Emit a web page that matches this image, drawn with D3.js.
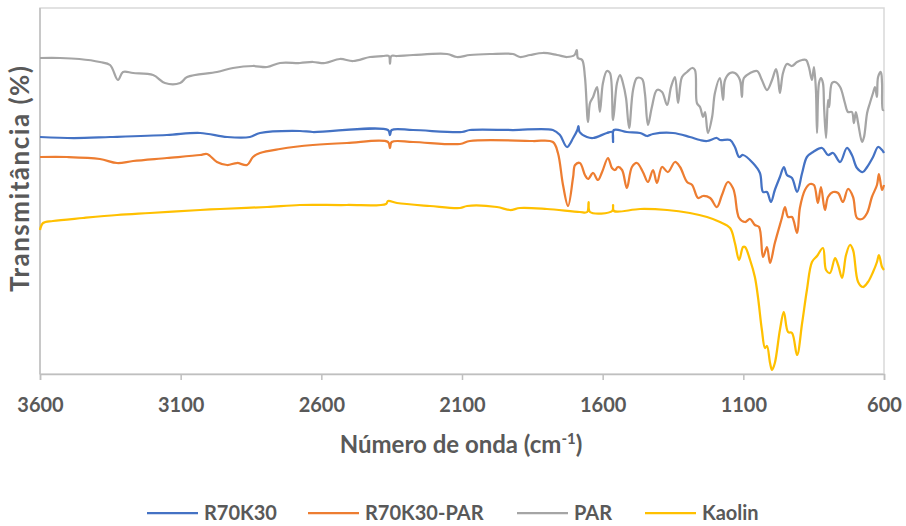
<!DOCTYPE html>
<html><head><meta charset="utf-8">
<script src="https://cdn.jsdelivr.net/npm/d3@7"></script>
<style>
body{margin:0;background:#fff}
svg{display:block}
text{font-family:Lato,"Open Sans",sans-serif;font-weight:bold;fill:#595959}
</style>
</head><body>
<svg id="chart" width="906" height="526"></svg>
<script>
// ---- data ----
const seriesNames = ["R70K30", "R70K30-PAR", "PAR", "Kaolin"];
const xTicks = [3600, 3100, 2600, 2100, 1600, 1100, 600];

// [wavenumber (cm-1), transmittance (arbitrary offset units)]
const r70k30 = [[3600,118.5],[3480,118],[3351,118.5],[3149,119.5],[3031,120.5],[2935,118.5],[2854,118.5],[2818,120.5],[2676,121.5],[2630,121],[2363,122],[2356,119.5],[2350,122],[2274,122],[2100,121],[2072,122],[1919,122],[1777,122],[1752,119.5],[1727,113.5],[1705,118],[1690,122],[1686,124],[1682,121],[1656,118.5],[1634,118],[1585,120.5],[1566,121],[1563,116],[1560,122],[1514,121],[1467,120.5],[1442,119],[1421,120],[1350,120.5],[1290,118.5],[1254,117],[1229,116.5],[1194,118],[1183,117],[1147,117],[1130,113.5],[1115,108.5],[1101,109.5],[1066,105.5],[1041,100.5],[1030,91],[1016,91],[1002,86],[988,92],[970,98.5],[956,103.5],[945,99.5],[927,98],[909,91],[891,100.5],[874,108.5],[852,111],[820,113],[799,109.5],[781,110.5],[756,106],[732,113],[714,109.5],[696,103],[675,101],[660,103.5],[639,108.5],[621,113.5],[607,112],[600,110.5]];

const r70k30par = [[3600,108.5],[3504,108.5],[3387,107.5],[3326,105.5],[3269,106.5],[3149,108],[3031,109.5],[3006,110],[2971,106],[2935,104.5],[2900,105.5],[2864,104.5],[2843,108.5],[2818,110.5],[2747,112.5],[2630,114.5],[2509,115.5],[2363,116],[2356,113],[2350,116],[2274,116],[2107,115],[2072,116.5],[1848,116.5],[1777,116],[1759,110.5],[1741,94.5],[1723,84],[1705,98.5],[1698,104.5],[1681,105.5],[1663,99.5],[1652,97.5],[1634,100.5],[1617,97],[1602,101],[1581,108],[1567,103],[1556,102],[1546,103.5],[1531,102],[1514,93],[1496,103.5],[1478,105.5],[1457,101],[1439,96],[1421,102],[1407,95.5],[1389,103.5],[1368,101],[1343,106],[1325,103.5],[1300,96],[1282,94.5],[1261,88],[1243,89],[1218,88],[1194,83.5],[1176,89.5],[1155,96],[1137,93],[1130,89.5],[1115,78],[1094,76],[1076,77.5],[1059,74.5],[1044,73.5],[1030,58.5],[1016,63.5],[1005,55.5],[988,65.5],[963,78],[952,83.5],[941,78.5],[927,78.5],[909,70.5],[899,83],[881,92],[863,95],[849,94.5],[835,85.5],[824,93.5],[810,82],[799,88.5],[781,91],[763,90.5],[746,86],[728,92.5],[710,88.5],[696,78],[678,77.5],[660,80.5],[643,88.5],[625,94.5],[618,100],[607,92],[600,94.5]];

const par = [[3600,158],[3529,158],[3460,157.5],[3387,156],[3351,154.5],[3323,147],[3305,151],[3269,150.5],[3198,149.5],[3156,145.5],[3102,145.5],[3077,148.5],[2971,151],[2914,153],[2843,154],[2793,153.5],[2747,155.5],[2676,155.5],[2630,156],[2587,155.5],[2534,157.5],[2487,156.5],[2427,158.5],[2381,159],[2360,159],[2356,155],[2351,159],[2331,159],[2274,159.5],[2153,160],[2118,158.5],[2072,159.5],[2000,160],[1919,160],[1894,158.5],[1858,159.5],[1812,160.5],[1762,159.5],[1727,158.5],[1700,159.5],[1692,162],[1688,158],[1673,157],[1663,148.5],[1652,126],[1645,135.5],[1634,138.5],[1620,143.5],[1610,131],[1599,145.5],[1585,151.5],[1574,150.5],[1563,127],[1549,145.5],[1538,149.5],[1528,145.5],[1517,138],[1506,123],[1492,142],[1478,148],[1460,147.5],[1450,140.5],[1439,124.5],[1425,133.5],[1407,142],[1389,141],[1371,134.5],[1357,143.5],[1343,148.5],[1332,135.5],[1318,148.5],[1300,151],[1282,153],[1272,152],[1265,135.5],[1254,133.5],[1243,128.5],[1236,131],[1226,120.5],[1211,128.5],[1201,140.5],[1183,148],[1172,137],[1165,147],[1147,150.5],[1130,150.5],[1112,147],[1105,138.5],[1098,148],[1076,150.5],[1051,151.5],[1034,147],[1016,142],[998,147],[984,152.5],[977,148.5],[970,140.5],[959,150.5],[945,155],[927,154],[909,156],[891,157],[877,157],[867,153.5],[856,147],[849,153.5],[842,142],[838,120.5],[831,145.5],[824,148],[817,145.5],[813,133.5],[806,118],[799,137],[795,133.5],[785,145.5],[774,146],[756,143.5],[739,135.5],[728,131],[714,131],[707,125.5],[700,131],[692,125.5],[678,116],[671,118.5],[660,130.5],[650,135.5],[639,140.5],[632,143.5],[625,138.5],[621,148.5],[611,151],[607,145.5],[604,132],[600,132]];

const kaolin = [[3600,72],[3589,75.5],[3554,76.5],[3447,78],[3326,79.5],[3209,80.5],[3031,82],[2960,82.5],[2793,83.5],[2676,84.5],[2509,84.5],[2370,85],[2363,86.5],[2331,85.5],[2214,84],[2107,83],[2082,84],[1976,83.5],[1929,82],[1894,83],[1798,82.5],[1681,81],[1655,81],[1650,86],[1645,81],[1566,81.5],[1563,84.5],[1560,81.5],[1467,82.5],[1371,82],[1290,80.5],[1229,78.5],[1183,76],[1147,73],[1130,65.5],[1115,57],[1101,63.5],[1094,63.5],[1076,57],[1059,48.5],[1048,38.5],[1034,22],[1023,13],[1016,14],[1005,5.5],[998,2],[988,5.5],[970,22],[956,31],[941,21],[927,20.5],[909,9.5],[891,25.5],[874,42],[856,56],[838,59],[817,63],[806,52],[792,50.5],[774,58],[763,54.5],[749,48],[735,59.5],[721,64.5],[710,62],[692,46],[675,43.5],[657,46],[639,51],[625,56],[618,59.5],[607,53.5],[600,52]];

const seriesData = [r70k30, r70k30par, par, kaolin];

// ---- style ----
const colors = ["#4472C4", "#ED7D31", "#A5A5A5", "#FFC000"];
const legendX = [147, 308, 517, 645];
const W = 906, H = 526;
const m = {left: 40, right: 22, top: 8, bottom: 152};

const svg = d3.select("#chart");
const x = d3.scaleLinear().domain([3600, 600]).range([m.left, W - m.right]);
const y = d3.scaleLinear().domain([0, 183]).range([H - m.bottom, m.top]);

// plot frame
svg.append("rect")
  .attr("x", m.left).attr("y", m.top)
  .attr("width", W - m.right - m.left).attr("height", H - m.bottom - m.top)
  .attr("fill", "none").attr("stroke", "#D9D9D9").attr("stroke-width", 1.5);

// y axis line
svg.append("line")
  .attr("x1", m.left).attr("x2", m.left).attr("y1", m.top).attr("y2", H - m.bottom)
  .attr("stroke", "#BFBFBF").attr("stroke-width", 1.5);

// x axis
const xAxis = svg.append("g")
  .attr("transform", `translate(0,${H - m.bottom})`)
  .call(d3.axisBottom(x).tickValues(xTicks).tickSize(6).tickPadding(18).tickFormat(d3.format("d")));
xAxis.select(".domain").attr("stroke", "#BFBFBF").attr("stroke-width", 1.5);
xAxis.selectAll(".tick line").attr("stroke", "#BFBFBF").attr("stroke-width", 1.5);
xAxis.selectAll(".tick text")
  .attr("font-family", "Lato, 'Open Sans', sans-serif")
  .attr("font-weight", "bold").attr("font-size", 20).attr("fill", "#595959");

// series
const line = d3.line()
  .x(d => x(d[0])).y(d => y(d[1]))
  .curve(d3.curveCatmullRom.alpha(0.5));

seriesData.forEach((s, i) => {
  svg.append("path")
    .datum(s)
    .attr("fill", "none")
    .attr("stroke", colors[i])
    .attr("stroke-width", 2.25)
    .attr("stroke-linejoin", "round")
    .attr("d", line);
});

// axis titles
const xt = svg.append("text")
  .attr("x", 461).attr("y", 453)
  .attr("text-anchor", "middle").attr("font-size", 24);
xt.append("tspan").text("Número de onda (cm");
xt.append("tspan").attr("dy", -9).attr("font-size", 15).text("-1");
xt.append("tspan").attr("dy", 9).text(")");

svg.append("text")
  .attr("transform", `translate(29,179) rotate(-90)`)
  .attr("text-anchor", "middle").attr("font-size", 26)
  .attr("textLength", 226).attr("lengthAdjust", "spacing")
  .text("Transmitância (%)");

// legend
seriesNames.forEach((n, i) => {
  const g = svg.append("g").attr("transform", `translate(${legendX[i]},513)`);
  g.append("line").attr("x1", 0).attr("x2", 51).attr("y1", 0).attr("y2", 0)
    .attr("stroke", colors[i]).attr("stroke-width", 2.25);
  g.append("text").attr("x", 57).attr("y", 7).attr("font-size", 20).text(n);
});
</script>
</body></html>
